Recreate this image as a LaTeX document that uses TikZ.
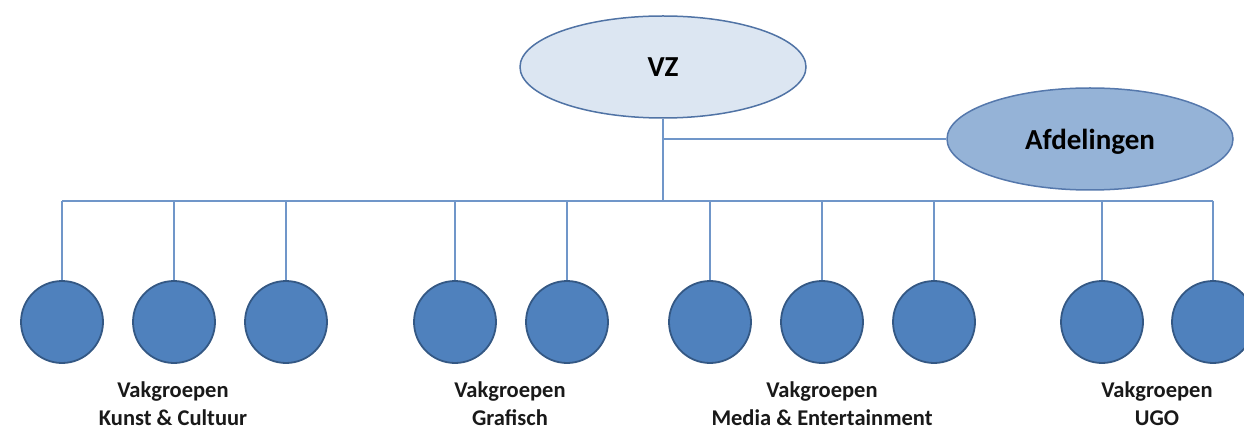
\documentclass[tikz,border=0pt]{standalone}
\usepackage{fontspec}
\setmainfont{Carlito}
\usetikzlibrary{shapes.geometric,backgrounds}
\definecolor{linkblue}{RGB}{112,150,201}
\definecolor{topfill}{RGB}{220,230,242}
\definecolor{topedge}{RGB}{80,115,165}
\definecolor{deptfill}{RGB}{149,179,215}
\definecolor{deptedge}{RGB}{85,120,172}
\definecolor{groupfill}{RGB}{79,129,189}
\definecolor{groupedge}{RGB}{52,88,132}
\tikzset{
  link/.style={draw=linkblue, line width=2.2pt},
  oval/.style={ellipse, line width=1.5pt,
    minimum width=286pt, minimum height=102pt, inner sep=0pt,
    text depth=-3pt, font=\fontsize{29}{34}\selectfont\bfseries},
  headoval/.style={oval, draw=topedge, fill=topfill},
  deptoval/.style={oval, draw=deptedge, fill=deptfill},
  group/.style={circle, draw=groupedge, fill=groupfill, line width=1.8pt,
    minimum size=82pt, inner sep=0pt},
  grouplabel/.style={align=center, inner sep=0pt,
    font=\fontsize{22.5}{28}\selectfont\bfseries, text=black!90}
}
\begin{document}
\begin{tikzpicture}[x=1pt,y=-1pt]
  \useasboundingbox (0,0) rectangle (1244,430);
  \clip (0,0) rectangle (1244,430);

  % top and side ovals
  \node[headoval] (vz) at (663,67) {VZ};
  \node[deptoval] (afd) at (1090,139) {Afdelingen};

  % group circles
  \foreach \i/\x in {1/62,2/174,3/286,4/455,5/567,6/710,7/822,8/934,9/1102,10/1213}
    \node[group] (c\i) at (\x,322) {};

  % junction on the bus
  \coordinate (j) at (663,201);

  % connectors, kept behind the shapes
  \begin{scope}[on background layer]
    \draw[link] (vz.south) -- (j);
    \draw[link] (vz.south |- afd.west) -- (afd.west);
    \draw[link] (c1.north |- j) -- (c10.north |- j);
    \foreach \i in {1,...,10}
      \draw[link] (c\i.north |- j) -- (c\i.north);
  \end{scope}

  % group captions
  \node[grouplabel] (l1) at (173,404) {Vakgroepen\\Kunst \& Cultuur};
  \node[grouplabel] (l2) at (510,404) {Vakgroepen\\Grafisch};
  \node[grouplabel] (l3) at (822,404) {Vakgroepen\\Media \& Entertainment};
  \node[grouplabel] (l4) at (1157,404) {Vakgroepen\\UGO};
\end{tikzpicture}
\end{document}
